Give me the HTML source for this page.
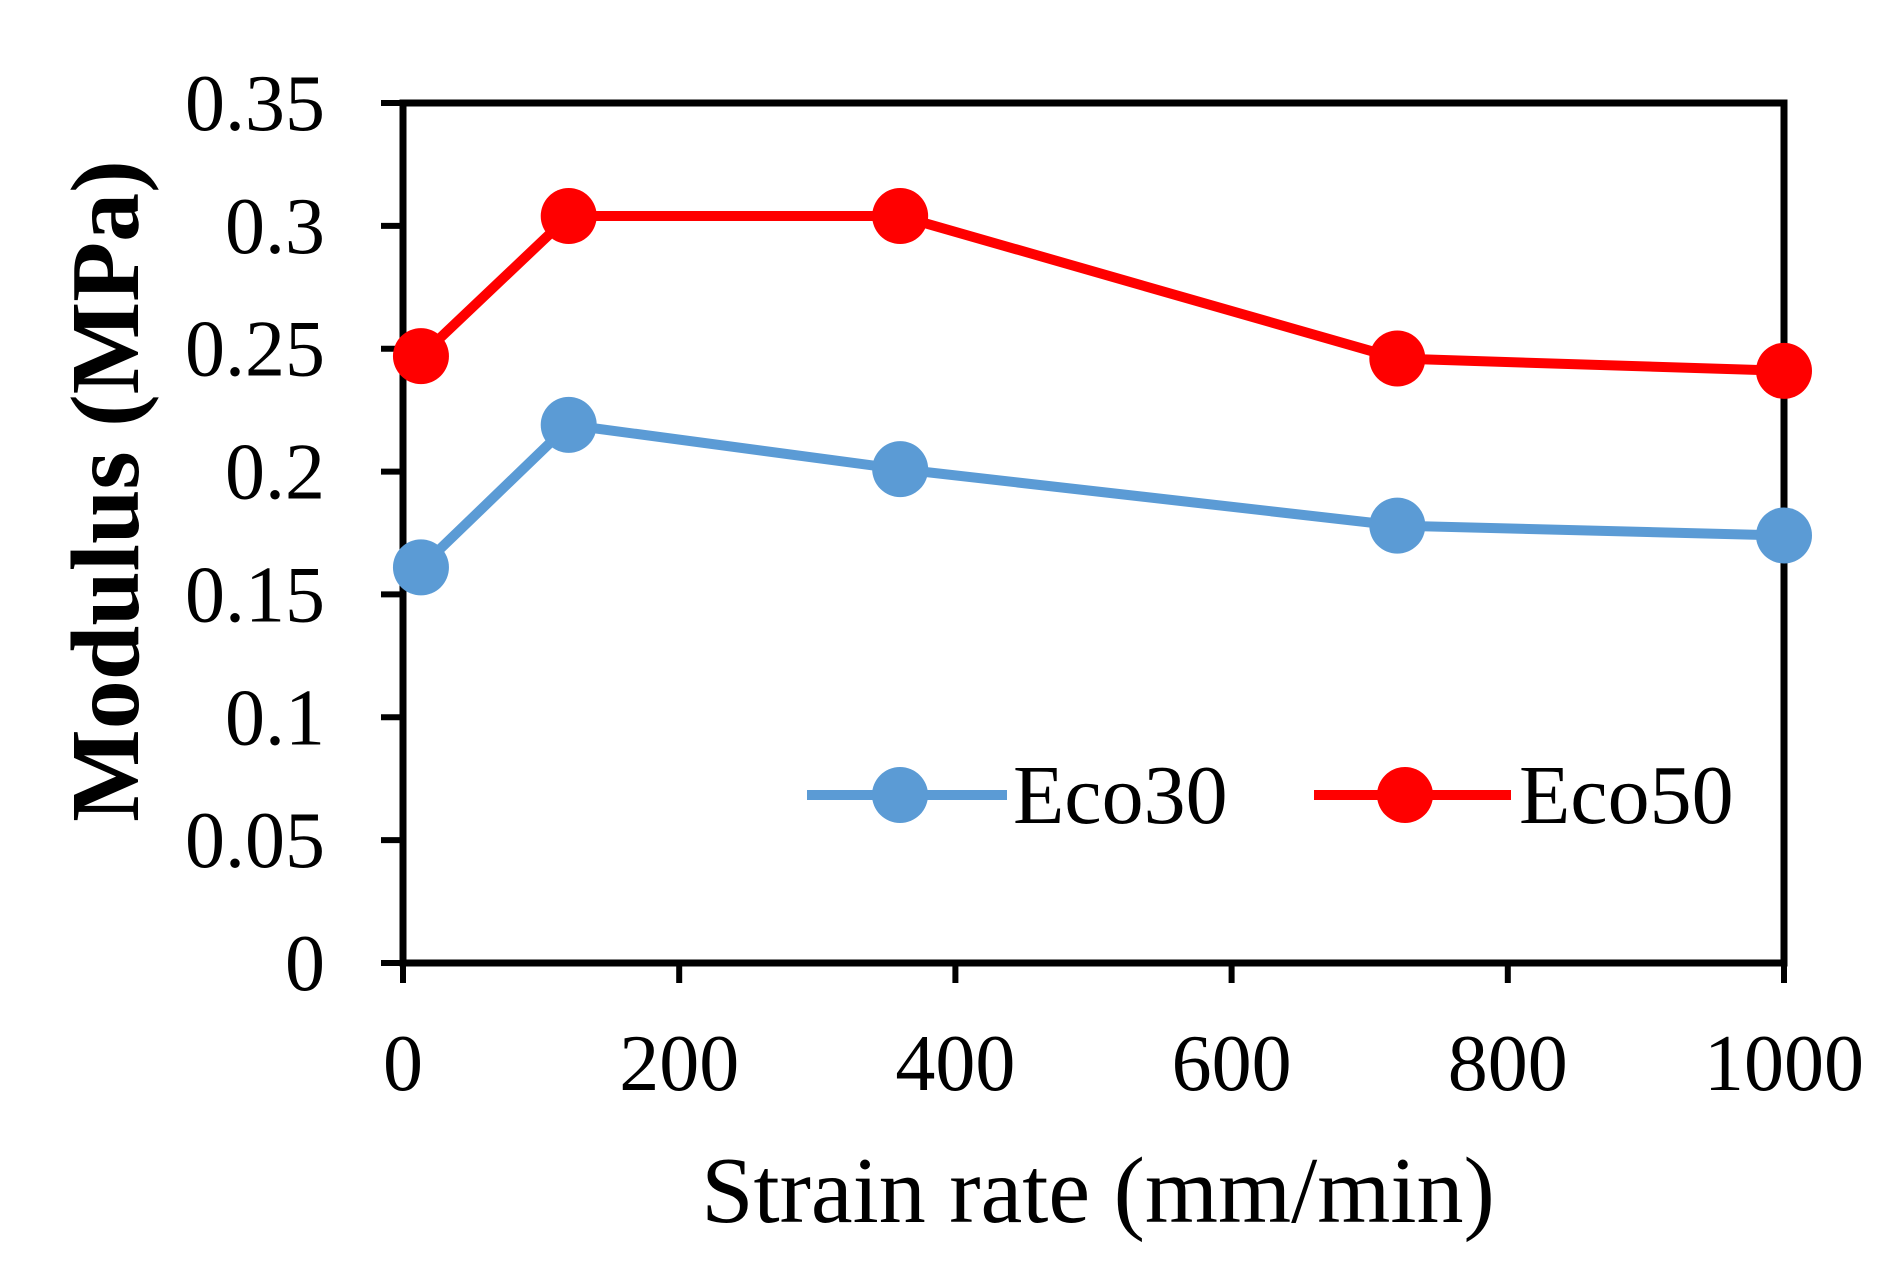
<!DOCTYPE html>
<html><head><meta charset="utf-8"><style>
html,body{margin:0;padding:0;background:#fff;}
svg{display:block;font-family:"Liberation Serif",serif;}
</style></head><body>
<svg id="chart" width="1893" height="1278" viewBox="0 0 1893 1278">
</svg>
<script>
const categories = [13, 120, 360, 720, 1000];
const eco30 = [0.161, 0.219, 0.201, 0.178, 0.174];
const eco50 = [0.247, 0.304, 0.304, 0.246, 0.241];
const xTicks = [0, 200, 400, 600, 800, 1000];
const yTicks = [0, 0.05, 0.1, 0.15, 0.2, 0.25, 0.3, 0.35];
const yTickLabels = ["0","0.05","0.1","0.15","0.2","0.25","0.3","0.35"];

const L=403, R=1784, T=103, B=963;
const xMin=0,xMax=1000,yMin=0,yMax=0.35;
function sx(v){return L+(v-xMin)/(xMax-xMin)*(R-L);}
function sy(v){return B-(v-yMin)/(yMax-yMin)*(B-T);}
const svg=document.getElementById('chart');
const NS='http://www.w3.org/2000/svg';
function mk(tag,attrs,parent){const e=document.createElementNS(NS,tag);for(const k in attrs)e.setAttribute(k,attrs[k]);(parent||svg).appendChild(e);return e;}

const frame=mk('rect',{x:L,y:T,width:R-L,height:B-T,fill:'none',stroke:'#000','stroke-width':7});



yTicks.forEach((v,i)=>{
  const t=mk('line',{x1:L-22,x2:L,y1:sy(v),y2:sy(v),stroke:'#000','stroke-width':6});
  
  
  const lb=mk('text',{x:L-78,y:sy(v)+27,'text-anchor':'end','font-size':80});
  lb.textContent=yTickLabels[i];
  
  
});
xTicks.forEach(v=>{
  const t=mk('line',{x1:sx(v),x2:sx(v),y1:B,y2:B+20,stroke:'#000','stroke-width':6});
  
  
  const lb=mk('text',{x:sx(v),y:1090,'text-anchor':'middle','font-size':80});
  lb.textContent=String(v);
  
  
});

function series(vals,color,name){
  const g=mk('g',{});
  
  
  const pts=categories.map((c,i)=>sx(c)+','+sy(vals[i])).join(' ');
  const pl=mk('polyline',{points:pts,fill:'none',stroke:color,'stroke-width':10,'stroke-linejoin':'round'},g);
  
  
  categories.forEach((c,i)=>{
    const m=mk('circle',{cx:sx(c),cy:sy(vals[i]),r:28,fill:color},g);
    
    
  });
}
series(eco30,'#5b9bd5','eco30');
series(eco50,'#ff0000','eco50');

function legend(x1,x2,cx,tx,color,label,name){
  const g=mk('g',{});
  
  
  mk('line',{x1:x1,x2:x2,y1:795,y2:795,stroke:color,'stroke-width':10},g);
  mk('circle',{cx:cx,cy:795,r:28,fill:color},g);
  const t=mk('text',{x:tx,y:823,'font-size':84},g);
  t.textContent=label;
}
legend(807,1007,900,1013,'#5b9bd5','Eco30','eco30');
legend(1314,1511,1405,1519,'#ff0000','Eco50','eco50');

const xt=mk('text',{x:1098,y:1222,'text-anchor':'middle','font-size':94});
xt.textContent='Strain rate (mm/min)';


const yt=mk('text',{x:0,y:0,'text-anchor':'middle','font-size':98,'font-weight':'bold',transform:'translate(138,491) rotate(-90)'});
yt.textContent='Modulus (MPa)';


</script>
</body></html>
